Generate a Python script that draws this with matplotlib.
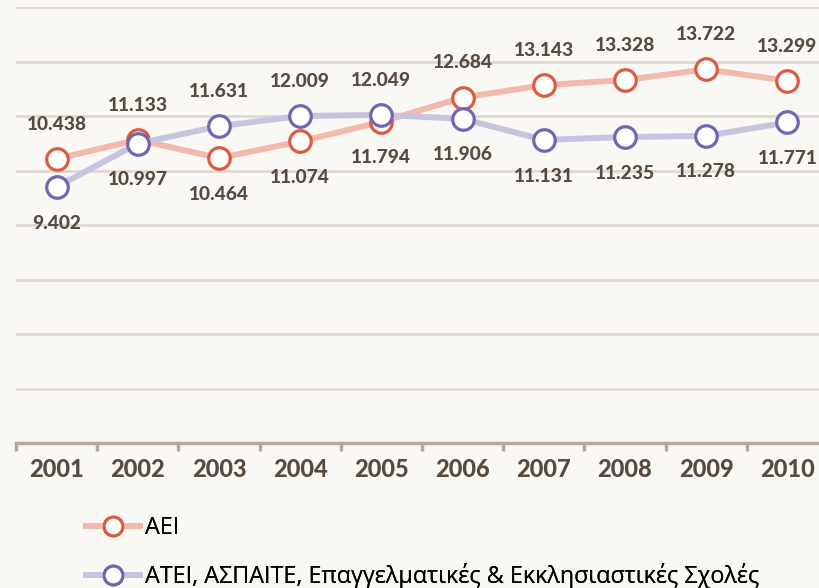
import numpy as np
import matplotlib
matplotlib.use("Agg")
import matplotlib.pyplot as plt
from matplotlib.lines import Line2D

years = ["2001", "2002", "2003", "2004", "2005", "2006", "2007", "2008", "2009", "2010"]
aei = [10.438, 11.133, 10.464, 11.074, 11.794, 12.684, 13.143, 13.328, 13.722, 13.299]
atei = [9.402, 10.997, 11.631, 12.009, 12.049, 11.906, 11.131, 11.235, 11.278, 11.771]
labels = ["ΑΕΙ", "ΑΤΕΙ, ΑΣΠΑΙΤΕ, Επαγγελματικές & Εκκλησιαστικές Σχολές"]

BG = "#faf8f5"
TXT = "#574b40"
GRID = "#e0d9d2"
AXC = "#b9a898"
AEI_LINE, AEI_EDGE = "#f2b9ad", "#de5a3e"
ATEI_LINE, ATEI_EDGE = "#c7c4e0", "#7165b6"

W, H = 819, 588
fig = plt.figure(figsize=(W / 100, H / 100), dpi=100, facecolor=BG)
left = 16 / W
width = 812 / W
bottom = 1 - 443 / H
top = 1 - 7.3 / H
ax = fig.add_axes([left, bottom, width, top - bottom], facecolor=BG)

x = np.arange(len(years))
ax.set_xlim(-0.5, len(years) - 0.5)
ax.set_ylim(0, 16)
ax.set_yticks(np.arange(2, 17, 2))
ax.yaxis.grid(True, color=GRID, linewidth=2)
ax.set_axisbelow(True)
ax.tick_params(axis="y", left=False, labelleft=False)
for s in ["top", "right", "left"]:
    ax.spines[s].set_visible(False)
ax.spines["bottom"].set_color(AXC)
ax.spines["bottom"].set_linewidth(2.5)

ax.set_xticks(x)
ax.set_xticklabels(years, fontfamily="Lato", fontweight="black", fontsize=17, color=TXT)
ax.tick_params(axis="x", which="major", length=0, pad=11)
ax.set_xticks(np.arange(-0.5, len(years), 1), minor=True)
ax.tick_params(axis="x", which="minor", length=6, width=2.5, color=AXC)

common = dict(linewidth=4.3, marker="o", markersize=15.5, markerfacecolor="white",
              markeredgewidth=2.3, solid_capstyle="round", zorder=3)
ax.plot(x, aei, color=AEI_LINE, markeredgecolor=AEI_EDGE, **common)
ax.plot(x, atei, color=ATEI_LINE, markeredgecolor=ATEI_EDGE, **common)

for i in range(len(years)):
    a, b = aei[i], atei[i]
    for v, other in ((a, b), (b, a)):
        off = 25 if v >= other else -26
        ax.annotate(f"{v:.3f}", (x[i], v), xytext=(0, off), textcoords="offset points",
                    ha="center", va="center", fontfamily="Lato", fontweight="black",
                    fontsize=13.8, color=TXT, zorder=4)

hk = dict(linewidth=4.3, marker="o", markersize=13.5, markerfacecolor="white",
          markeredgewidth=2.2)
h1 = Line2D([], [], color=AEI_LINE, markeredgecolor=AEI_EDGE, **hk)
h2 = Line2D([], [], color=ATEI_LINE, markeredgecolor=ATEI_EDGE, **hk)
for h, lab, yy in ((h1, labels[0], 528), (h2, labels[1], 576)):
    lg = fig.legend([h], [lab], loc="center left", bbox_to_anchor=(86 / W, 1 - yy / H),
                    frameon=False, borderpad=0, borderaxespad=0, handlelength=2.3,
                    handletextpad=0.22, prop={"family": "Open Sans", "size": 16.8})
    for t in lg.get_texts():
        t.set_color("black")
    fig.add_artist(lg)

fig.savefig("out.png", dpi=100, facecolor=BG)
